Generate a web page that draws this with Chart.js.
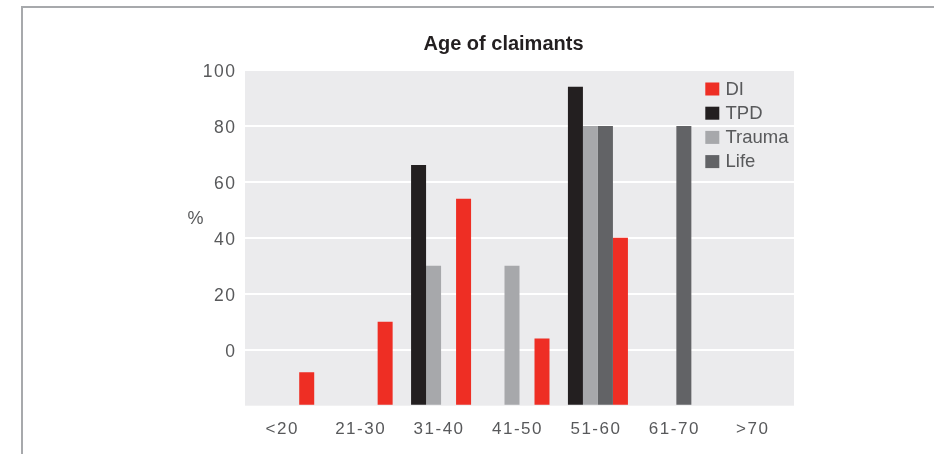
<!DOCTYPE html>
<html>
<head>
<meta charset="utf-8">
<script src="https://cdn.jsdelivr.net/npm/chart.js@4/dist/chart.umd.min.js"></script>
<style>
  html, body { margin: 0; padding: 0; background: #ffffff; }
  #wrap { width: 934px; height: 454px; position: relative; }
</style>
</head>
<body>
<div id="wrap"><canvas id="chart" width="934" height="454"></canvas></div>
<script>
// Age bands on the category axis
const ageBands = ['<20', '21-30', '31-40', '41-50', '51-60', '61-70', '>70'];

// Share of claimants (%) per product; null where no bar is shown
const tpd    = [null, null, 66, null, 94, null, null];
const trauma = [null, null, 30, 30, 80, null, null];
const life   = [null, null, null, null, 80, 80, null];
const di     = [-8, 10, 54, 4, 40, null, null];

// Value axis ticks (the lowest one is the floor the bars grow from and carries no label)
const yTicks = [-20, 0, 20, 40, 60, 80, 100];

// Legend reads top to bottom in this order
const legendOrder = ['DI', 'TPD', 'Trauma', 'Life'];

const chartTitle = 'Age of claimants';

const colours = {
  DI: '#EE2E24',
  TPD: '#231F20',
  Trauma: '#A7A8AB',
  Life: '#626366'
};

const yFloor = yTicks[0];
const yTop = yTicks[yTicks.length - 1];
const tickColour = '#58595B';
const sans = '"Liberation Sans", Arial, Helvetica, sans-serif';

// Outer frame lines and the grey plotting panel
const panel = {
  id: 'panel',
  beforeDraw(chart) {
    const { ctx, chartArea: a } = chart;
    ctx.save();
    ctx.strokeStyle = '#A7A9AC';
    ctx.lineWidth = 2;
    ctx.beginPath();
    ctx.moveTo(22, chart.height);
    ctx.lineTo(22, 7);
    ctx.lineTo(chart.width, 7);
    ctx.stroke();
    ctx.fillStyle = '#EBEBED';
    ctx.fillRect(a.left, a.top, a.right - a.left, a.bottom - a.top);
    ctx.restore();
  }
};

// Slightly tracked tick labels
const trackedTicks = {
  id: 'trackedTicks',
  beforeDraw(chart) {
    Object.values(chart.scales).forEach(s => {
      if (s._tracked) return;
      const drawLabels = s.drawLabels.bind(s);
      s.drawLabels = function (area) {
        const ctx = this.ctx;
        ctx.save();
        ctx.letterSpacing = '1.5px';
        drawLabels(area);
        ctx.restore();
      };
      s._tracked = true;
    });
  }
};

// Title above the panel and the horizontal "%" unit label beside the value axis
const captions = {
  id: 'captions',
  afterDraw(chart) {
    const { ctx, chartArea: a } = chart;
    ctx.save();
    ctx.textAlign = 'center';
    ctx.textBaseline = 'middle';
    ctx.font = 'bold 20px ' + sans;
    ctx.fillStyle = '#231F20';
    ctx.fillText(chartTitle, 503.5, a.top - 26);
    ctx.font = '18px ' + sans;
    ctx.fillStyle = tickColour;
    ctx.fillText('%', a.left - 49.5, a.top + 149);
    ctx.restore();
  }
};

// Legend placed inside the panel, top right
const panelLegend = {
  id: 'panelLegend',
  afterDatasetsDraw(chart) {
    const { ctx, chartArea: a } = chart;
    ctx.save();
    ctx.font = '18.5px ' + sans;
    ctx.textAlign = 'left';
    ctx.textBaseline = 'middle';
    legendOrder.forEach((name, i) => {
      const ds = chart.data.datasets.find(d => d.label === name);
      const y = a.top + 19 + i * 24.2;
      ctx.fillStyle = ds.backgroundColor;
      ctx.fillRect(a.right - 88.7, y - 6.5, 14, 13);
      ctx.fillStyle = tickColour;
      ctx.fillText(name, a.right - 68.5, y + 0.5);
    });
    ctx.restore();
  }
};

const barSet = (label, values) => ({
  label,
  data: values,
  backgroundColor: colours[label],
  borderWidth: 0,
  base: yFloor,
  barPercentage: 1.0,
  categoryPercentage: 0.765
});

new Chart(document.getElementById('chart'), {
  type: 'bar',
  data: {
    labels: ageBands,
    datasets: [
      barSet('TPD', tpd),
      barSet('Trauma', trauma),
      barSet('Life', life),
      barSet('DI', di)
    ]
  },
  options: {
    responsive: false,
    animation: false,
    layout: { padding: { left: 185, right: 140, top: 70, bottom: 0 } },
    plugins: {
      legend: { display: false },
      tooltip: { enabled: false },
      title: { display: false }
    },
    scales: {
      x: {
        grid: { display: false, drawTicks: false },
        border: { display: false },
        ticks: {
          color: tickColour,
          font: { family: sans, size: 17 },
          padding: 13,
          labelOffset: -2,
          maxRotation: 0,
          autoSkip: false
        },
        afterFit(scale) { scale.height = 48.3; }
      },
      y: {
        min: yFloor,
        max: yTop,
        grid: {
          drawTicks: false,
          lineWidth: 2,
          color: c => (c.tick && c.tick.value === yFloor) ? 'rgba(0,0,0,0)' : '#FFFFFF'
        },
        border: { display: false },
        afterBuildTicks(scale) { scale.ticks = yTicks.map(v => ({ value: v })); },
        ticks: {
          color: tickColour,
          font: { family: sans, size: 17.5 },
          padding: 8.5,
          labelOffset: 2,
          callback: v => (v === yFloor ? '' : v)
        },
        afterFit(scale) { scale.width = 60; }
      }
    }
  },
  plugins: [panel, trackedTicks, captions, panelLegend]
});
</script>
</body>
</html>
